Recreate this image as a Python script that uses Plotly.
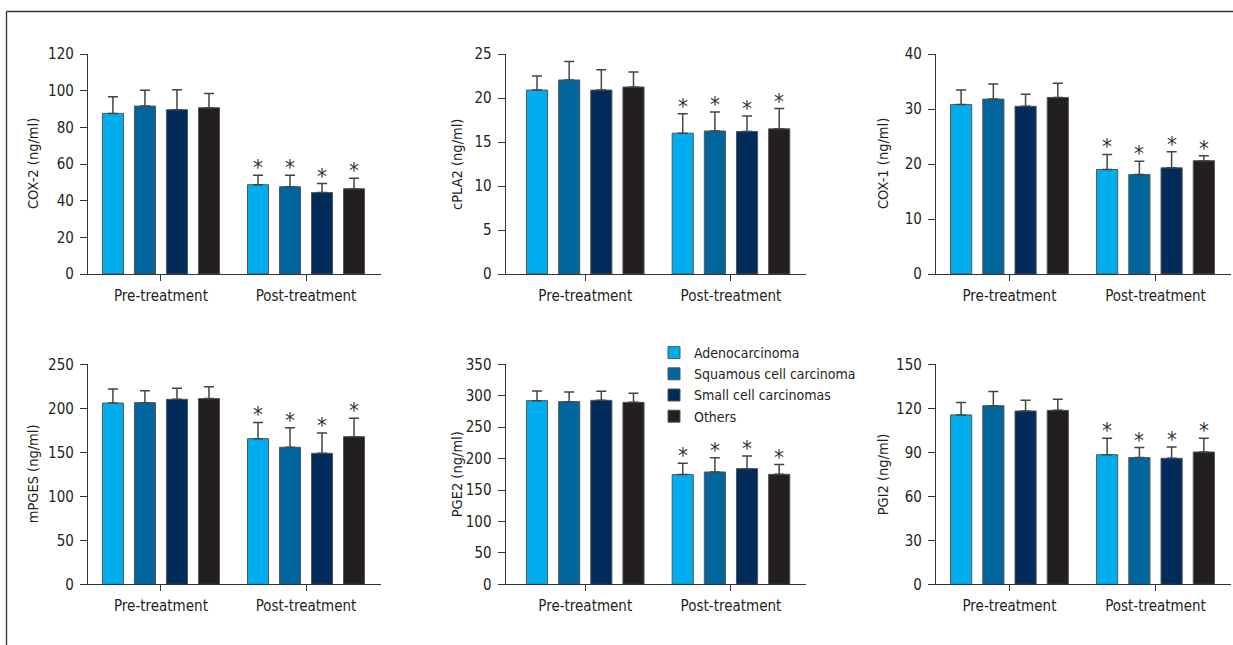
import plotly.graph_objects as go

W, H = 1233, 645

groups = ["Pre-treatment", "Post-treatment"]
series = ["Adenocarcinoma", "Squamous cell carcinoma", "Small cell carcinomas", "Others"]
colors = ["#00ADEE", "#00669D", "#002B5B", "#231F20"]

# mean values [pre, post] per series, and upper error (SD)
cox2_mean = [[87.6, 48.7], [91.6, 47.6], [89.6, 44.4], [90.7, 46.5]]
cox2_err = [[9.1, 5.1], [8.6, 6.2], [10.9, 4.9], [7.8, 5.7]]

cpla2_mean = [[20.9, 16.0], [22.05, 16.25], [20.9, 16.2], [21.25, 16.5]]
cpla2_err = [[1.6, 2.2], [2.1, 2.15], [2.3, 1.75], [1.7, 2.3]]

cox1_mean = [[30.8, 19.0], [31.8, 18.1], [30.5, 19.3], [32.1, 20.6]]
cox1_err = [[2.65, 2.75], [2.75, 2.4], [2.2, 2.95], [2.6, 0.9]]

mpges_mean = [[206.0, 165.5], [206.4, 155.7], [210.2, 148.9], [211.0, 167.8]]
mpges_err = [[16.0, 18.5], [13.6, 22.3], [12.5, 23.1], [13.6, 20.8]]

pge2_mean = [[292.2, 174.5], [290.6, 178.7], [292.7, 184.0], [289.5, 175.0]]
pge2_err = [[15.4, 18.0], [15.4, 22.8], [14.3, 20.0], [14.3, 15.4]]

pgi2_mean = [[115.5, 88.4], [121.8, 86.4], [118.2, 85.9], [118.6, 90.2]]
pgi2_err = [[8.4, 11.1], [9.6, 6.8], [7.3, 7.7], [7.5, 9.3]]

post_significant = [True, True, True, True]

panels = [
    dict(title="COX-2 (ng/ml)", mean=cox2_mean, err=cox2_err, ymax=120, dtick=20),
    dict(title="cPLA2 (ng/ml)", mean=cpla2_mean, err=cpla2_err, ymax=25, dtick=5),
    dict(title="COX-1 (ng/ml)", mean=cox1_mean, err=cox1_err, ymax=40, dtick=10),
    dict(title="mPGES (ng/ml)", mean=mpges_mean, err=mpges_err, ymax=250, dtick=50),
    dict(title="PGE2 (ng/ml)", mean=pge2_mean, err=pge2_err, ymax=350, dtick=50),
    dict(title="PGI2 (ng/ml)", mean=pgi2_mean, err=pgi2_err, ymax=150, dtick=30),
]

# layout geometry (pixels)
col_px = [(88, 381), (505.7, 806), (936, 1231)]
col_range = [(-0.503, 1.517), (-0.546, 1.515), (-0.503, 1.517)]
row_px = [(54, 274), (364.3, 584.3)]
title_x_px = [33, 457, 883]
slot = 0.2207
barw = 0.145

FONT = "DejaVu Sans Condensed, Liberation Sans Narrow, sans-serif"
TXT = "#231F20"
AX = "#333333"

fig = go.Figure()
annotations = []
for p, pan in enumerate(panels):
    r, c = divmod(p, 3)
    idx = p + 1
    xa = "x" if idx == 1 else f"x{idx}"
    ya = "y" if idx == 1 else f"y{idx}"
    for i, name in enumerate(series):
        xs = [g + (i - 1.5) * slot for g in range(len(groups))]
        fig.add_trace(go.Bar(
            x=xs, y=pan["mean"][i], width=barw, name=name,
            marker=dict(color=colors[i], line=dict(color="#555555", width=1)),
            error_y=dict(type="data", array=pan["err"][i], arrayminus=[0, 0],
                         symmetric=False, color="#444444", thickness=1.5, width=5),
            xaxis=xa, yaxis=ya, showlegend=(p == 4), legendrank=i,
            hoverinfo="skip",
        ))
        if post_significant[i]:
            annotations.append(dict(
                x=xs[1], y=pan["mean"][i][1] + pan["err"][i][1], xref=xa, yref=ya,
                text="*", showarrow=False, yanchor="bottom", yshift=-7,
                font=dict(family=FONT, size=22, color="#333333"),
            ))
    x0, x1 = col_px[c]
    y0, y1 = row_px[r]
    dom_x = [x0 / W, x1 / W]
    dom_y = [1 - y1 / H, 1 - y0 / H]
    common = dict(showgrid=False, zeroline=False, showline=True, linecolor=AX,
                  linewidth=1.3, ticks="outside", tickcolor=AX, tickwidth=1.3,
                  tickfont=dict(family=FONT, size=15, color=TXT))
    fig.layout[f"xaxis{'' if idx == 1 else idx}"] = dict(
        domain=dom_x, anchor=ya, range=list(col_range[c]),
        tickvals=list(range(len(groups))), ticktext=groups, ticklen=6,
        ticklabelstandoff=2, **common)
    fig.layout[f"yaxis{'' if idx == 1 else idx}"] = dict(
        domain=dom_y, anchor=xa, range=[0, pan["ymax"]], dtick=pan["dtick"],
        tick0=0, ticklen=7, ticklabelstandoff=3, **common)
    annotations.append(dict(
        x=title_x_px[c] / W, y=1 - (y0 + y1) / 2 / H, xref="paper", yref="paper",
        text=pan["title"], textangle=-90, showarrow=False,
        xanchor="center", yanchor="middle",
        font=dict(family=FONT, size=14.5, color=TXT),
    ))

fig.update_layout(
    width=W, height=H,
    margin=dict(l=0, r=0, t=0, b=0, autoexpand=False),
    paper_bgcolor="white", plot_bgcolor="white",
    barmode="overlay",
    annotations=annotations,
    legend=dict(x=654 / W, y=1 - 337 / H, xanchor="left", yanchor="top",
                bgcolor="rgba(0,0,0,0)", traceorder="normal",
                font=dict(family=FONT, size=14, color=TXT), tracegroupgap=0),
    shapes=[
        dict(type="line", xref="paper", yref="paper", x0=6.5 / W, x1=1,
             y0=1 - 11.5 / H, y1=1 - 11.5 / H, line=dict(color="#333333", width=1.3)),
        dict(type="line", xref="paper", yref="paper", x0=6.5 / W, x1=6.5 / W,
             y0=0, y1=1 - 11.5 / H, line=dict(color="#333333", width=1.3)),
    ],
)

fig.write_html("out.html", config={"displayModeBar": False},
               post_script="document.body.style.margin='0px';")
